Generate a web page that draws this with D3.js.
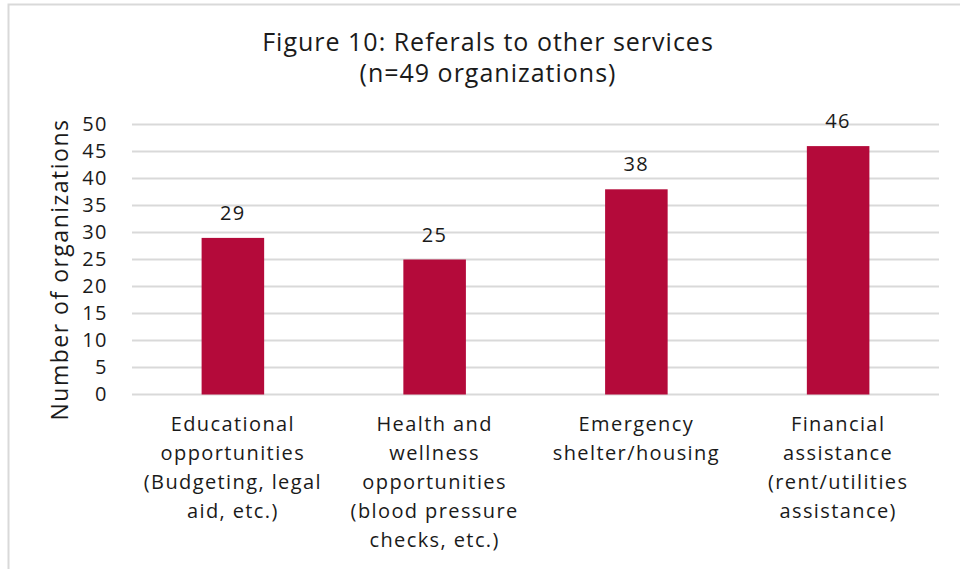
<!DOCTYPE html>
<html>
<head>
<meta charset="utf-8">
<script src="https://cdn.jsdelivr.net/npm/d3@7"></script>
<style>
  body { margin: 0; background: #fff; }
  text { font-family: "Open Sans", Lato, sans-serif; fill: #1a1a1a; }
</style>
</head>
<body>
<div id="chart"></div>
<script>
// data
let categories = [
  ["Educational", "opportunities", "(Budgeting, legal", "aid, etc.)"],
  ["Health and", "wellness", "opportunities", "(blood pressure", "checks, etc.)"],
  ["Emergency", "shelter/housing"],
  ["Financial", "assistance", "(rent/utilities", "assistance)"]
];
let values = [29, 25, 38, 46];
let yTicks = [0, 5, 10, 15, 20, 25, 30, 35, 40, 45, 50];
let titleLines = ["Figure 10: Referals to other services", "(n=49 organizations)"];
let yTitle = "Number of organizations";

//setup SVG container
let svgWidth = 960;
let svgHeight = 569;
let margin = { top: 124.5, right: 21, bottom: 174.5, left: 132 };
let bodyWidth = svgWidth - margin.left - margin.right;
let bodyHeight = svgHeight - margin.top - margin.bottom;

let svg = d3.select("#chart")
            .append("svg")
            .attr("width", svgWidth)
            .attr("height", svgHeight);

// chart area border (top and left visible)
svg.append("rect")
   .attr("x", 8.5).attr("y", 4.5)
   .attr("width", 980).attr("height", 600)
   .attr("fill", "none")
   .attr("stroke", "#d9d9d9")
   .attr("stroke-width", 2);

let chartGroup = svg.append("g")
                    .attr("transform", `translate(${margin.left},${margin.top})`);

// scales
let xScale = d3.scaleBand()
               .domain(d3.range(values.length))
               .range([0, bodyWidth])
               .padding(0);
let barWidth = xScale.bandwidth() * 0.31;

let yScale = d3.scaleLinear()
               .domain([0, 50])
               .range([bodyHeight, 0]);

// gridlines
chartGroup.append("g")
  .selectAll("line")
  .data(yTicks)
  .enter()
    .append("line")
    .attr("x1", 0)
    .attr("x2", bodyWidth)
    .attr("y1", d => yScale(d))
    .attr("y2", d => yScale(d))
    .attr("stroke", "#d9d9d9")
    .attr("stroke-width", 2);

// left axis (labels only)
let leftAxis = d3.axisLeft(yScale).tickValues(yTicks).tickSize(0).tickPadding(24);
let yAxisG = chartGroup.append("g").call(leftAxis);
yAxisG.select(".domain").remove();
yAxisG.selectAll("text")
      .style("font-size", "20px")
      .style("letter-spacing", "1.5px")
      .attr("fill", "#1a1a1a");

// bars
chartGroup.append("g")
  .selectAll("rect")
  .data(values)
  .enter()
    .append("rect")
    .attr("x", (d, i) => xScale(i) + xScale.bandwidth() / 2 - barWidth / 2)
    .attr("y", d => yScale(d))
    .attr("width", barWidth)
    .attr("height", d => bodyHeight - yScale(d))
    .attr("fill", "#b40a3a");

// value labels
chartGroup.append("g")
  .selectAll("text")
  .data(values)
  .enter()
    .append("text")
    .attr("x", (d, i) => xScale(i) + xScale.bandwidth() / 2)
    .attr("y", d => yScale(d) - 18)
    .attr("text-anchor", "middle")
    .style("font-size", "20px")
    .style("letter-spacing", "1.5px")
    .text(d => d);

// category labels
let catGroup = chartGroup.append("g")
  .selectAll("text")
  .data(categories)
  .enter()
    .append("text")
    .attr("text-anchor", "middle")
    .style("font-size", "20px")
    .style("letter-spacing", "1.4px")
    .attr("transform", (d, i) => `translate(${xScale(i) + xScale.bandwidth() / 2},${bodyHeight + 36})`);

catGroup.selectAll("tspan")
  .data(d => d)
  .enter()
    .append("tspan")
    .attr("x", 0)
    .attr("y", (d, i) => i * 29)
    .text(d => d);

// title
svg.append("g")
  .selectAll("text")
  .data(titleLines)
  .enter()
    .append("text")
    .attr("x", 488)
    .attr("y", (d, i) => 51 + i * 31)
    .attr("text-anchor", "middle")
    .style("font-size", "25px")
    .style("letter-spacing", "1px")
    .text(d => d);

// y axis title
svg.append("text")
   .attr("transform", `translate(68,${margin.top + bodyHeight / 2 + 10}) rotate(-90)`)
   .attr("text-anchor", "middle")
   .style("font-size", "23px")
   .style("letter-spacing", "1.5px")
   .text(yTitle);
</script>
</body>
</html>
